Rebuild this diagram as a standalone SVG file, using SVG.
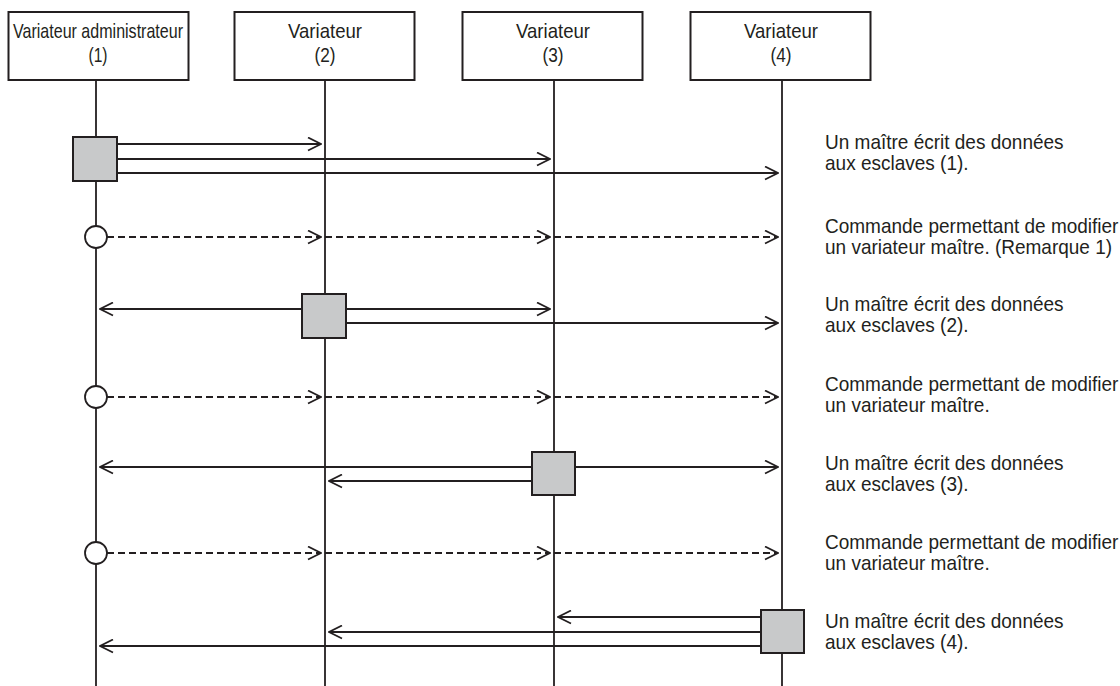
<svg xmlns="http://www.w3.org/2000/svg" width="1120" height="686" viewBox="0 0 1120 686">
<defs>
<style>
.box{fill:#fff;stroke:#231f20;stroke-width:2}
.life{stroke:#231f20;stroke-width:1.8;fill:none}
.msg{stroke:#231f20;stroke-width:1.8;fill:none;marker-end:url(#ah)}
.dash{stroke:#231f20;stroke-width:1.8;fill:none;stroke-dasharray:7 4;marker-end:url(#ah)}
.act{fill:#c8c9ca;stroke:#231f20;stroke-width:2}
.circ{fill:#fff;stroke:#231f20;stroke-width:1.8}
.hd{font-family:"Liberation Sans",Arial,sans-serif;font-size:21px;fill:#231f20;text-anchor:middle}
.note{font-family:"Liberation Sans",Arial,sans-serif;font-size:20.5px;fill:#231f20}
</style>
<marker id="ah" markerUnits="userSpaceOnUse" markerWidth="15" markerHeight="15" refX="13" refY="6.5" orient="auto" viewBox="-1 -1 15 15">
<path d="M0,0 L13,6.5 L0,13" fill="none" stroke="#231f20" stroke-width="1.8"/>
</marker>
</defs>

<g id="lifelines">
<line class="life" x1="96" y1="80" x2="96" y2="686"/>
<line class="life" x1="325" y1="80" x2="325" y2="686"/>
<line class="life" x1="554" y1="80" x2="554" y2="686"/>
<line class="life" x1="782" y1="80" x2="782" y2="686"/>
</g>

<g id="node1">
<rect class="box" x="8.5" y="12" width="180" height="68"/>
<text class="hd" x="98" y="38" textLength="170" lengthAdjust="spacingAndGlyphs">Variateur administrateur</text>
<text class="hd" x="98" y="62" textLength="19" lengthAdjust="spacingAndGlyphs">(1)</text>
</g>
<g id="node2">
<rect class="box" x="234.5" y="12" width="180" height="68"/>
<text class="hd" x="325" y="38" textLength="74" lengthAdjust="spacingAndGlyphs">Variateur</text>
<text class="hd" x="325" y="62" textLength="21" lengthAdjust="spacingAndGlyphs">(2)</text>
</g>
<g id="node3">
<rect class="box" x="462.5" y="12" width="180" height="68"/>
<text class="hd" x="553" y="38" textLength="74" lengthAdjust="spacingAndGlyphs">Variateur</text>
<text class="hd" x="553" y="62" textLength="21" lengthAdjust="spacingAndGlyphs">(3)</text>
</g>
<g id="node4">
<rect class="box" x="690.5" y="12" width="180" height="68"/>
<text class="hd" x="781" y="38" textLength="74" lengthAdjust="spacingAndGlyphs">Variateur</text>
<text class="hd" x="781" y="62" textLength="21" lengthAdjust="spacingAndGlyphs">(4)</text>
</g>

<g id="connectors">
<line class="msg" x1="117" y1="144" x2="321" y2="144"/>
<line class="msg" x1="117" y1="159" x2="550" y2="159"/>
<line class="msg" x1="117" y1="173" x2="778" y2="173"/>
<line class="dash" x1="107" y1="237" x2="321" y2="237"/>
<line class="dash" x1="325" y1="237" x2="550" y2="237"/>
<line class="dash" x1="554" y1="237" x2="778" y2="237"/>
<line class="msg" x1="302" y1="309" x2="100" y2="309"/>
<line class="msg" x1="346" y1="309" x2="550" y2="309"/>
<line class="msg" x1="346" y1="323" x2="778" y2="323"/>
<line class="dash" x1="107" y1="397" x2="321" y2="397"/>
<line class="dash" x1="325" y1="397" x2="550" y2="397"/>
<line class="dash" x1="554" y1="397" x2="778" y2="397"/>
<line class="msg" x1="532" y1="467" x2="100" y2="467"/>
<line class="msg" x1="532" y1="481" x2="329" y2="481"/>
<line class="msg" x1="575" y1="467" x2="778" y2="467"/>
<line class="dash" x1="107" y1="553" x2="321" y2="553"/>
<line class="dash" x1="325" y1="553" x2="550" y2="553"/>
<line class="dash" x1="554" y1="553" x2="778" y2="553"/>
<line class="msg" x1="761" y1="617" x2="558" y2="617"/>
<line class="msg" x1="761" y1="632" x2="329" y2="632"/>
<line class="msg" x1="761" y1="646" x2="100" y2="646"/>
</g>

<g id="activations">
<rect class="act" x="73" y="137" width="44" height="44"/>
<circle class="circ" cx="96" cy="237" r="11"/>
<rect class="act" x="302" y="294" width="44" height="44"/>
<circle class="circ" cx="96" cy="397" r="11"/>
<rect class="act" x="532" y="452" width="43" height="43"/>
<circle class="circ" cx="96" cy="553" r="11"/>
<rect class="act" x="761" y="610" width="43" height="43"/>
</g>

<g id="notes" transform="scale(0.927,1)">
<text class="note" x="890" y="149">Un maître écrit des données</text>
<text class="note" x="890" y="170">aux esclaves (1).</text>
<text class="note" x="890" y="233">Commande permettant de modifier</text>
<text class="note" x="890" y="254">un variateur maître. (Remarque 1)</text>
<text class="note" x="890" y="311">Un maître écrit des données</text>
<text class="note" x="890" y="332">aux esclaves (2).</text>
<text class="note" x="890" y="391">Commande permettant de modifier</text>
<text class="note" x="890" y="412">un variateur maître.</text>
<text class="note" x="890" y="470">Un maître écrit des données</text>
<text class="note" x="890" y="491">aux esclaves (3).</text>
<text class="note" x="890" y="549">Commande permettant de modifier</text>
<text class="note" x="890" y="570">un variateur maître.</text>
<text class="note" x="890" y="628">Un maître écrit des données</text>
<text class="note" x="890" y="649">aux esclaves (4).</text>
</g>
</svg>
